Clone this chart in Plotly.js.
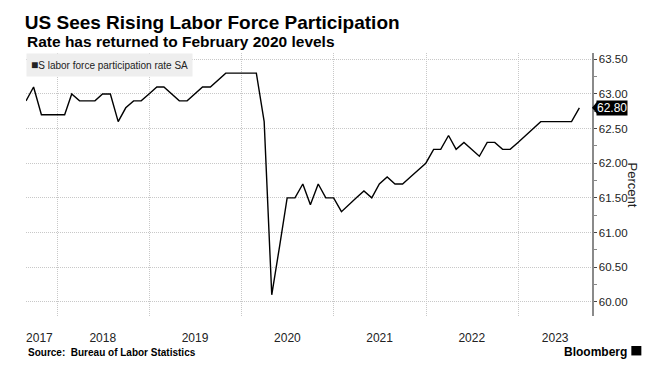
<!DOCTYPE html>
<html>
<head>
<meta charset="utf-8">
<script src="https://cdn.plot.ly/plotly-3.0.1.min.js"></script>
<style>
html,body{margin:0;padding:0;background:#fff;}
#chart{width:670px;height:372px;}
</style>
</head>
<body>
<div id="chart"></div>
<script>
// Monthly US labor force participation rate, Aug 2017 - Aug 2023 (month-end)
const startYear = 2017, startMonth = 8; // August 2017
const rateValues = [
  62.9, 63.1, 62.7, 62.7, 62.7,                                   // 2017 Aug-Dec
  62.7, 63.0, 62.9, 62.9, 62.9, 63.0, 63.0, 62.6, 62.8, 62.9, 62.9, 63.0, // 2018
  63.1, 63.1, 63.0, 62.9, 62.9, 63.0, 63.1, 63.1, 63.2, 63.3, 63.3, 63.3, // 2019
  63.3, 63.3, 62.6, 60.1, 60.8, 61.5, 61.5, 61.7, 61.4, 61.7, 61.5, 61.5, // 2020
  61.3, 61.4, 61.5, 61.6, 61.5, 61.7, 61.8, 61.7, 61.7, 61.8, 61.9, 62.0, // 2021
  62.2, 62.2, 62.4, 62.2, 62.3, 62.2, 62.1, 62.3, 62.3, 62.2, 62.2, 62.3, // 2022
  62.4, 62.5, 62.6, 62.6, 62.6, 62.6, 62.6, 62.8                          // 2023 Jan-Aug
];
const yearLabels = ['2017','2018','2019','2020','2021','2022','2023'];
const yearLabelPositions = ['2017-10-23','2018-07-01','2019-07-01','2020-07-01','2021-07-01','2022-07-01','2023-05-27'];
const seriesName = 'S labor force participation rate SA';

// month-end dates for each observation
const dates = rateValues.map((v, i) => {
  const d = new Date(Date.UTC(startYear, startMonth - 1 + i + 1, 0));
  return d.toISOString().slice(0, 10);
});
const lastVal = rateValues[rateValues.length - 1];

const FONT = 'Liberation Sans, Arial, sans-serif';
const GRID = '#c8c8c8';

const trace = {
  x: dates, y: rateValues, type: 'scatter', mode: 'lines',
  line: {color: '#000000', width: 1.4},
  name: seriesName, showlegend: false, hoverinfo: 'x+y'
};

const layout = {
  width: 670, height: 372,
  margin: {l: 25.6, r: 77.7, t: 52.7, b: 56},
  paper_bgcolor: '#ffffff', plot_bgcolor: '#ffffff',
  font: {family: FONT, color: '#222222', size: 12},
  title: {
    text: 'US Sees Rising Labor Force Participation',
    font: {family: FONT, size: 19, color: '#000000', weight: 'bold'},
    x: 0.037, xanchor: 'left', xref: 'container',
    y: 0.94, yanchor: 'middle', yref: 'container'
  },
  xaxis: {
    type: 'date',
    range: ['2017-08-31', '2023-10-20'],
    tickmode: 'array', tickvals: yearLabelPositions, ticktext: yearLabels,
    showgrid: false, zeroline: false, showline: false,
    ticks: 'outside', ticklen: 11, tickcolor: 'rgba(0,0,0,0)',
    tickfont: {family: FONT, size: 12, color: '#222222'},
    minor: {dtick: 'M12', tick0: '2017-01-01', showgrid: true, gridcolor: GRID, griddash: '1px,1px', gridwidth: 1, ticks: ''},
    fixedrange: true
  },
  yaxis: {
    side: 'right',
    range: [59.794, 63.591],
    tickmode: 'linear', tick0: 60, dtick: 0.5, tickformat: '.2f',
    showgrid: true, gridcolor: GRID, griddash: '1px,1px', gridwidth: 1,
    zeroline: false,
    showline: true, linecolor: '#8a8a8a', linewidth: 1.5,
    ticks: 'outside', ticklen: 3, tickcolor: '#444444', tickwidth: 1,
    minor: {dtick: 0.25, ticks: 'outside', ticklen: 3, tickcolor: '#888888', showgrid: false},
    tickfont: {family: FONT, size: 11.5, color: '#222222'},
    fixedrange: true
  },
  annotations: [
    {
      text: '<b>Rate has returned to February 2020 levels</b>',
      xref: 'paper', yref: 'paper', x: 0, y: 1, xanchor: 'left', yanchor: 'middle',
      xshift: -1, yshift: 12, showarrow: false,
      font: {family: FONT, size: 15.5, color: '#000000'}
    },
    {
      text: '<span style="font-size:12px">■</span>' + seriesName,
      xref: 'paper', yref: 'paper', x: 0, y: 1, xanchor: 'left', yanchor: 'top',
      showarrow: false, bgcolor: '#eeeeee', borderpad: 4, align: 'left',
      font: {family: FONT, size: 10, color: '#222222'}
    },
    {
      text: lastVal.toFixed(2),
      xref: 'paper', yref: 'y', x: 1, y: lastVal, xanchor: 'left', yanchor: 'middle',
      xshift: 4, showarrow: false, bgcolor: '#000000', borderpad: 0,
      font: {family: FONT, size: 12, color: '#ffffff'}
    },
    {
      text: 'Percent', textangle: 90,
      xref: 'paper', yref: 'paper', x: 1, y: 0.5, xanchor: 'center', yanchor: 'middle',
      xshift: 40, showarrow: false,
      font: {family: FONT, size: 13, color: '#222222'}
    },
    {
      text: '<b>Source:  Bureau of Labor Statistics</b>',
      xref: 'paper', yref: 'paper', x: 0, y: 0, xanchor: 'left', yanchor: 'middle',
      xshift: 0, yshift: -36, showarrow: false,
      font: {family: FONT, size: 10, color: '#000000'}
    },
    {
      text: '<b>Bloomberg</b>',
      xref: 'paper', yref: 'paper', x: 1, y: 0, xanchor: 'right', yanchor: 'middle',
      xshift: 37, yshift: -36, showarrow: false,
      font: {family: FONT, size: 12, color: '#000000'}
    }
  ],
  shapes: [
    // arrow tip of the last-value label
    {
      type: 'path', xref: 'paper', yref: 'y', xsizemode: 'pixel', ysizemode: 'pixel',
      xanchor: 1, yanchor: lastVal,
      path: 'M 0 0 L 5 6 L 5 -6 Z',
      fillcolor: '#000000', line: {width: 0}
    },
    // Bloomberg logo block
    {
      type: 'rect', xref: 'paper', yref: 'paper',
      x0: 1.0695, x1: 1.0872, y0: -0.150, y1: -0.114,
      fillcolor: '#000000', line: {width: 0}
    }
  ]
};

Plotly.newPlot('chart', [trace], layout, {displayModeBar: false, staticPlot: true});
</script>
</body>
</html>
